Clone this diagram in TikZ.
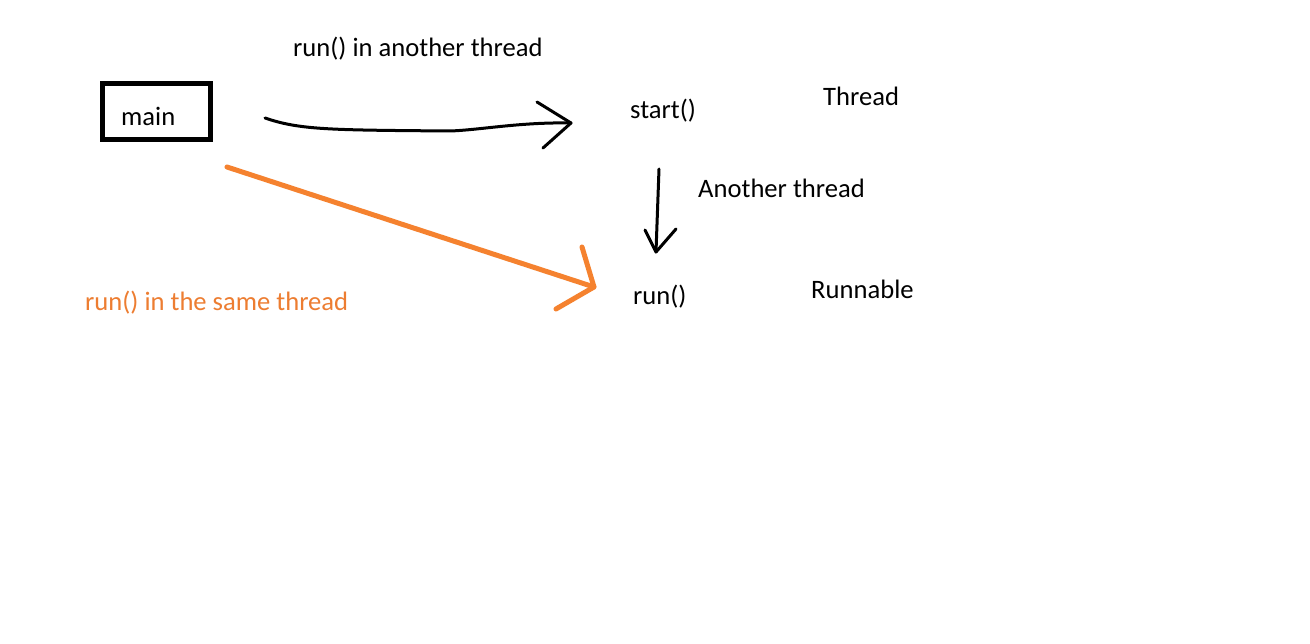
\documentclass[tikz,border=0pt]{standalone}
\usepackage{fontspec}
\setmainfont{Carlito}
\definecolor{ornline}{HTML}{F5822F}
\definecolor{orntext}{HTML}{ED7D31}
\begin{document}
\begin{tikzpicture}[x=1pt,y=-1pt,
  lbl/.style={anchor=base west,inner sep=0pt,font=\fontsize{26.6}{30}\selectfont},
  pen/.style={draw=black,line width=3pt,line cap=round,line join=round},
  orpen/.style={draw=ornline,line width=5pt,line cap=round,line join=round}]
\useasboundingbox[fill=white] (0,0) rectangle (1310,644);
% main box
\node[draw=black,line width=5pt,minimum width=108pt,minimum height=56pt,inner sep=0pt] (mainbox) at (156,112) {};
\node[lbl] (main) at (121,126) {main};
% labels
\node[lbl] (toplbl) at (293,57) {run() in another thread};
\node[lbl] (start) at (630,119) {start()};
\node[lbl] (thread) at (823,106) {Thread};
\node[lbl] (another) at (698,198) {Another thread};
\node[lbl] (run) at (633,305) {run()};
\node[lbl] (runnable) at (811,299) {Runnable};
\node[lbl,text=orntext] (same) at (85,311) {run() in the same thread};
% black curved arrow
\coordinate (a0) at (265,118);
\coordinate (a1) at (571,123);
\draw[pen] (a0) .. controls (300,130) and (330,130) .. (450,131)
  .. controls (480,130) and (520,122) .. (a1);
\draw[pen] (537,102) -- (a1) -- (543,148);
% vertical arrow
\coordinate (v0) at (659,169);
\coordinate (v1) at (656,252);
\draw[pen] (v0) -- (v1);
\draw[pen] (645,230) -- (v1) -- (676,229);
% orange arrow
\coordinate (o0) at (227,167);
\coordinate (o1) at (594,287);
\draw[orpen] (o0) -- (o1);
\draw[orpen] (582,247) -- (o1) -- (556,309);
\end{tikzpicture}
\end{document}
